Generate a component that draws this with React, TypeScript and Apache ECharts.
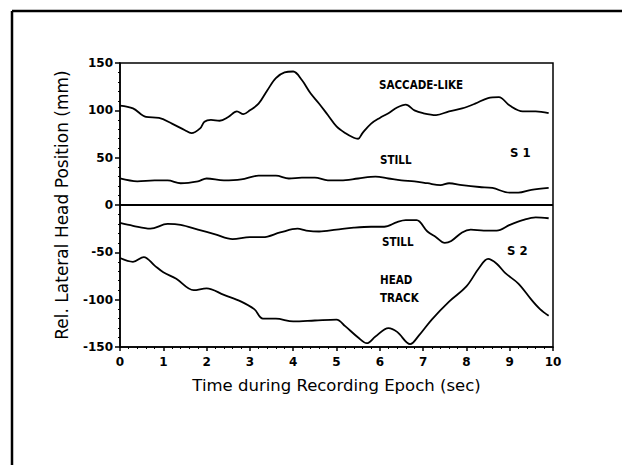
import React, { useEffect, useRef } from "react";
import * as echarts from "echarts";

const xTicks = [0, 1, 2, 3, 4, 5, 6, 7, 8, 9, 10];
const yTicks = [-150, -100, -50, 0, 50, 100, 150];

const saccadeT = [0, 0.3, 0.6, 0.9, 1.2, 1.5, 1.65, 1.85, 1.95, 2.1, 2.3, 2.5, 2.7, 2.85, 3.0, 3.2, 3.4, 3.6, 3.8, 4.0, 4.2, 4.4, 4.6, 4.8, 5.0, 5.2, 5.4, 5.5, 5.6, 5.8, 6.0, 6.2, 6.4, 6.6, 6.8, 7.0, 7.3, 7.6, 7.9, 8.2, 8.5, 8.75, 9.0, 9.3, 9.6, 9.9];
const saccadeV = [105, 102, 93, 92, 86, 79, 76, 81, 88, 90, 89, 93, 99, 96, 100, 107, 121, 134, 140, 141, 132, 118, 107, 95, 83, 76, 71, 70, 76, 86, 92, 97, 103, 106, 100, 97, 95, 99, 102, 107, 113, 114, 105, 99, 99, 97];

const still1T = [0, 0.4, 0.8, 1.1, 1.4, 1.8, 2.0, 2.4, 2.8, 3.2, 3.6, 3.9, 4.2, 4.5, 4.8, 5.1, 5.5, 5.9, 6.2, 6.5, 6.8, 7.1, 7.4, 7.6, 7.9, 8.3, 8.6, 9.0, 9.2, 9.5, 9.9];
const still1V = [28, 25, 26, 26, 23, 25, 28, 26, 27, 31, 31, 28, 29, 29, 26, 26, 28, 30, 28, 26, 25, 23, 21, 23, 21, 19, 18, 13, 13, 16, 18];

const still2T = [0, 0.3, 0.7, 1.1, 1.4, 1.8, 2.2, 2.6, 3.0, 3.3, 3.7, 4.1, 4.3, 4.6, 5.0, 5.4, 5.8, 6.1, 6.4, 6.6, 6.85, 7.1, 7.3, 7.5, 7.65, 7.9, 8.1, 8.4, 8.7, 9.0, 9.3, 9.6, 9.9];
const still2V = [-19, -22, -25, -20, -21, -26, -31, -36, -34, -34, -29, -25, -27, -28, -26, -24, -23, -23, -18, -16, -16, -28, -34, -40, -38, -29, -26, -27, -27, -21, -16, -13, -14];

const headT = [0, 0.3, 0.55, 0.8, 1.0, 1.3, 1.7, 2.0, 2.4, 2.8, 3.1, 3.3, 3.6, 4.0, 4.5, 5.0, 5.2, 5.5, 5.7, 5.9, 6.2, 6.4, 6.7, 6.9, 7.2, 7.6, 8.0, 8.3, 8.5, 8.7, 8.9, 9.2, 9.5, 9.7, 9.9];
const headV = [-56, -60, -55, -64, -71, -78, -90, -88, -95, -102, -110, -120, -120, -123, -122, -121, -128, -140, -146, -139, -130, -134, -147, -138, -121, -102, -86, -66, -57, -62, -72, -83, -100, -110, -117];

const zip = (t: number[], v: number[]) => t.map((x, i) => [x, v[i]]);

const labelFont = "'DejaVu Sans Condensed', 'Liberation Sans Narrow', 'DejaVu Sans', sans-serif";

export default function App() {
  const ref = useRef<HTMLDivElement>(null);
  useEffect(() => {
    if (!ref.current) return;
    const chart = echarts.init(ref.current, null, { renderer: "svg" });
    const lineSeries = (name: string, data: number[][], extra: any = {}) => ({
      name,
      type: "line",
      data,
      showSymbol: false,
      symbol: "none",
      smooth: 0.35,
      lineStyle: { color: "#000", width: 1.8 },
      ...extra,
    });
    const txt = (x: number, y: number, text: string, size = 11.5) => ({
      type: "text",
      x,
      y,
      style: { text, fill: "#000", font: `bold ${size}px ${labelFont}`, textVerticalAlign: "middle" },
    });
    chart.setOption({
      animation: false,
      backgroundColor: "#fff",
      grid: { left: 120, top: 63, width: 433, height: 284, show: true, borderColor: "#000", borderWidth: 1.5, backgroundColor: "transparent" },
      xAxis: {
        type: "value",
        min: xTicks[0],
        max: xTicks[xTicks.length - 1],
        interval: 1,
        name: "Time during Recording Epoch (sec)",
        nameLocation: "middle",
        nameGap: 30,
        nameTextStyle: { fontFamily: "DejaVu Sans", fontSize: 16.5, color: "#000" },
        axisLine: { onZero: false, lineStyle: { color: "#000", width: 1.5 } },
        axisTick: { show: true, length: 4, lineStyle: { color: "#000", width: 1.5 } },
        minorTick: { show: true, splitNumber: 5, length: 2, lineStyle: { color: "#000" } },
        axisLabel: { color: "#000", fontFamily: "DejaVu Sans", fontWeight: "bold", fontSize: 12, margin: 9 },
        splitLine: { show: false },
      },
      yAxis: {
        type: "value",
        min: yTicks[0],
        max: yTicks[yTicks.length - 1],
        interval: 50,
        name: "Rel. Lateral Head Position (mm)",
        nameLocation: "middle",
        nameGap: 50,
        nameTextStyle: { fontFamily: "DejaVu Sans", fontSize: 17, color: "#000" },
        axisLine: { onZero: false, lineStyle: { color: "#000", width: 1.5 } },
        axisTick: { show: true, length: 5, lineStyle: { color: "#000", width: 1.5 } },
        minorTick: { show: true, splitNumber: 5, length: 2, lineStyle: { color: "#000" } },
        axisLabel: { color: "#000", fontFamily: "DejaVu Sans", fontWeight: "bold", fontSize: 12, margin: 7 },
        splitLine: { show: false },
      },
      series: [
        lineSeries("Saccade-like (S1)", zip(saccadeT, saccadeV), {
          markLine: {
            silent: true,
            symbol: "none",
            label: { show: false },
            lineStyle: { color: "#000", width: 2.2, type: "solid" },
            data: [{ yAxis: 0 }],
          },
        }),
        lineSeries("Still (S1)", zip(still1T, still1V)),
        lineSeries("Still (S2)", zip(still2T, still2V)),
        lineSeries("Head track (S2)", zip(headT, headV)),
      ],
      graphic: [
        { type: "line", shape: { x1: 12, y1: 11, x2: 622, y2: 11 }, style: { stroke: "#000", lineWidth: 2.5 } },
        { type: "line", shape: { x1: 12, y1: 11, x2: 12, y2: 465 }, style: { stroke: "#000", lineWidth: 2.5 } },
        txt(379, 85, "SACCADE-LIKE"),
        txt(380, 160, "STILL"),
        txt(510, 152, "S 1", 13),
        txt(382, 242, "STILL"),
        txt(507, 250, "S 2", 13),
        txt(380, 280, "HEAD"),
        txt(380, 298, "TRACK"),
      ],
    });
    return () => chart.dispose();
  }, []);
  return (
    <div
      ref={ref}
      style={{ position: "fixed", left: 0, top: 0, width: 622, height: 465, background: "#fff" }}
    />
  );
}
